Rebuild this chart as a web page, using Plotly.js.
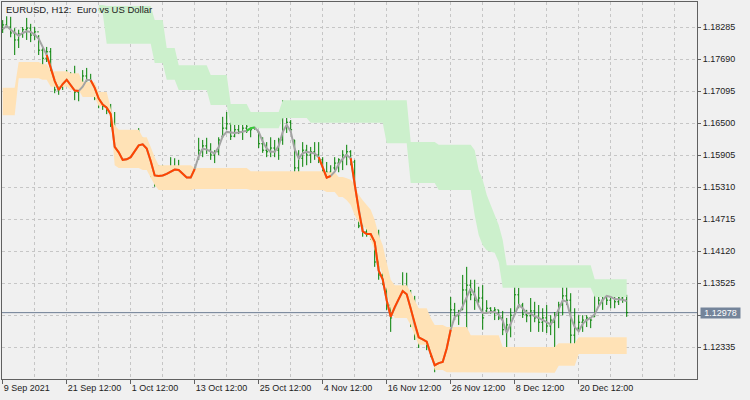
<!DOCTYPE html>
<html><head><meta charset="utf-8">
<script src="https://cdn.plot.ly/plotly-3.0.1.min.js"></script>
<style>html,body{margin:0;padding:0;background:#f0f0f0}</style>
</head><body><div id="chart" style="width:750px;height:400px"></div>
<script>
const chartTitle = 'EURUSD, H12:  Euro vs US Dollar';
const xTickBars = [0, 16, 32, 48, 64, 80, 96, 112, 128, 144];
const xTickText = ['9 Sep 2021', '21 Sep 12:00', '1 Oct 12:00', '13 Oct 12:00', '25 Oct 12:00', '4 Nov 12:00', '16 Nov 12:00', '26 Nov 12:00', '8 Dec 12:00', '20 Dec 12:00'];
const yTicks = [1.18285, 1.17690, 1.17095, 1.16500, 1.15905, 1.15310, 1.14715, 1.14120, 1.13525, 1.12930, 1.12335];
const yTickText = ['1.18285', '1.17690', '1.17095', '1.16500', '1.15905', '1.15310', '1.14715', '1.14120', '1.13525', '', '1.12335'];
const lastPrice = 1.12978;

const openP = [
1.1824,1.1833,1.1829,1.1818,1.1805,1.1816,1.1824,1.1827,1.1814,1.1820,
1.1786,1.1771,1.1783,1.1740,1.1712,1.1719,1.1734,1.1727,1.1716,1.1708,
1.1721,1.1738,1.1731,1.1719,1.1697,1.1686,1.1682,1.1675,1.1647,1.1600,
1.1597,1.1578,1.1585,1.1600,1.1608,1.1619,1.1604,1.1578,1.1554,1.1548,
1.1559,1.1552,1.1559,1.1567,1.1563,1.1556,1.1548,1.1552,1.1559,1.1585,
1.1600,1.1608,1.1600,1.1591,1.1597,1.1626,1.1641,1.1649,1.1626,1.1638,
1.1634,1.1641,1.1645,1.1641,1.1634,1.1612,1.1600,1.1597,1.1604,1.1600,
1.1619,1.1678,1.1652,1.1619,1.1567,1.1585,1.1600,1.1591,1.1597,1.1591,
1.1582,1.1554,1.1559,1.1567,1.1576,1.1582,1.1591,1.1597,1.1578,1.1498,
1.1459,1.1448,1.1444,1.1440,1.1392,1.1368,1.1359,1.1312,1.1301,1.1314,
1.1329,1.1347,1.1329,1.1288,1.1262,1.1247,1.1251,1.1236,1.1219,1.1199,
1.1210,1.1213,1.1266,1.1303,1.1292,1.1303,1.1340,1.1349,1.1331,1.1321,
1.1325,1.1301,1.1306,1.1301,1.1303,1.1288,1.1266,1.1275,1.1293,1.1331,
1.1312,1.1295,1.1292,1.1301,1.1288,1.1280,1.1288,1.1273,1.1280,1.1293,
1.1312,1.1329,1.1321,1.1256,1.1269,1.1280,1.1284,1.1288,1.1290,1.1329,
1.1321,1.1331,1.1321,1.1329,1.1318,1.1325,1.1321];
const highP = [
1.1842,1.1849,1.1848,1.1827,1.1824,1.1829,1.1846,1.1835,1.1829,1.1814,
1.1790,1.1792,1.1790,1.1742,1.1731,1.1745,1.1749,1.1745,1.1757,1.1727,
1.1749,1.1753,1.1742,1.1719,1.1703,1.1697,1.1693,1.1686,1.1671,1.1615,
1.1604,1.1595,1.1610,1.1615,1.1641,1.1623,1.1604,1.1585,1.1567,1.1572,
1.1572,1.1563,1.1587,1.1585,1.1582,1.1567,1.1567,1.1561,1.1569,1.1623,
1.1619,1.1623,1.1613,1.1600,1.1624,1.1662,1.1671,1.1652,1.1665,1.1652,
1.1651,1.1651,1.1656,1.1665,1.1634,1.1624,1.1615,1.1624,1.1619,1.1623,
1.1693,1.1690,1.1656,1.1619,1.1600,1.1615,1.1610,1.1606,1.1615,1.1615,
1.1587,1.1578,1.1572,1.1587,1.1585,1.1600,1.1610,1.1600,1.1582,1.1507,
1.1466,1.1465,1.1455,1.1461,1.1452,1.1386,1.1373,1.1325,1.1329,1.1340,
1.1373,1.1372,1.1340,1.1329,1.1284,1.1269,1.1269,1.1256,1.1225,1.1225,
1.1228,1.1256,1.1327,1.1316,1.1303,1.1368,1.1383,1.1359,1.1359,1.1346,
1.1349,1.1321,1.1308,1.1308,1.1303,1.1301,1.1288,1.1306,1.1355,1.1344,
1.1316,1.1303,1.1325,1.1318,1.1312,1.1306,1.1312,1.1293,1.1299,1.1318,
1.1359,1.1346,1.1334,1.1306,1.1293,1.1293,1.1293,1.1288,1.1344,1.1344,
1.1344,1.1336,1.1344,1.1336,1.1344,1.1336,1.1331];
const lowP = [
1.1818,1.1827,1.1810,1.1777,1.1790,1.1809,1.1805,1.1801,1.1805,1.1777,
1.1757,1.1764,1.1731,1.1706,1.1703,1.1712,1.1719,1.1716,1.1693,1.1691,
1.1712,1.1721,1.1716,1.1693,1.1678,1.1675,1.1667,1.1643,1.1591,1.1585,
1.1569,1.1571,1.1578,1.1587,1.1591,1.1597,1.1567,1.1550,1.1532,1.1548,
1.1545,1.1539,1.1554,1.1559,1.1548,1.1545,1.1526,1.1526,1.1548,1.1582,
1.1587,1.1593,1.1582,1.1576,1.1591,1.1623,1.1638,1.1619,1.1624,1.1630,
1.1619,1.1632,1.1624,1.1638,1.1604,1.1595,1.1587,1.1587,1.1587,1.1582,
1.1610,1.1632,1.1634,1.1535,1.1548,1.1569,1.1572,1.1576,1.1582,1.1576,
1.1532,1.1554,1.1539,1.1563,1.1559,1.1563,1.1572,1.1572,1.1489,1.1455,
1.1439,1.1439,1.1433,1.1383,1.1359,1.1349,1.1303,1.1262,1.1299,1.1301,
1.1321,1.1321,1.1271,1.1247,1.1232,1.1243,1.1228,1.1215,1.1187,1.1197,
1.1204,1.1204,1.1260,1.1284,1.1275,1.1303,1.1234,1.1321,1.1303,1.1316,
1.1266,1.1299,1.1296,1.1284,1.1284,1.1256,1.1225,1.1252,1.1293,1.1306,
1.1288,1.1280,1.1262,1.1280,1.1262,1.1262,1.1260,1.1256,1.1223,1.1269,
1.1293,1.1312,1.1234,1.1234,1.1262,1.1262,1.1271,1.1269,1.1290,1.1312,
1.1303,1.1312,1.1306,1.1306,1.1312,1.1316,1.1290];
const closeP = [
1.1833,1.1829,1.1818,1.1805,1.1816,1.1824,1.1827,1.1814,1.1820,1.1786,
1.1771,1.1783,1.1740,1.1712,1.1719,1.1734,1.1727,1.1716,1.1708,1.1721,
1.1738,1.1731,1.1719,1.1697,1.1686,1.1682,1.1675,1.1647,1.1600,1.1597,
1.1578,1.1585,1.1600,1.1608,1.1619,1.1604,1.1578,1.1554,1.1548,1.1559,
1.1552,1.1559,1.1567,1.1563,1.1556,1.1548,1.1552,1.1559,1.1567,1.1600,
1.1608,1.1600,1.1591,1.1597,1.1619,1.1641,1.1649,1.1626,1.1638,1.1634,
1.1641,1.1645,1.1638,1.1643,1.1612,1.1600,1.1597,1.1604,1.1600,1.1619,
1.1678,1.1652,1.1638,1.1567,1.1585,1.1600,1.1591,1.1597,1.1591,1.1582,
1.1545,1.1559,1.1554,1.1576,1.1582,1.1591,1.1597,1.1578,1.1498,1.1459,
1.1448,1.1444,1.1440,1.1392,1.1368,1.1359,1.1312,1.1288,1.1314,1.1329,
1.1347,1.1329,1.1288,1.1262,1.1247,1.1251,1.1236,1.1219,1.1199,1.1210,
1.1213,1.1247,1.1303,1.1292,1.1301,1.1340,1.1349,1.1331,1.1321,1.1325,
1.1288,1.1306,1.1301,1.1303,1.1288,1.1266,1.1275,1.1293,1.1331,1.1312,
1.1295,1.1292,1.1301,1.1288,1.1280,1.1288,1.1273,1.1284,1.1293,1.1312,
1.1329,1.1321,1.1256,1.1269,1.1280,1.1284,1.1288,1.1284,1.1329,1.1321,
1.1331,1.1321,1.1329,1.1318,1.1325,1.1321,1.12978];
const trendLine = [
1.1825,1.1831,1.1824,1.1818,1.1813,1.1818,1.1821,1.1820,1.1815,1.1807,
1.1792,1.1777,1.1755,1.1729,1.1712,1.1723,1.1731,1.1721,1.1711,1.1710,
1.1718,1.1731,1.1730,1.1716,1.1696,1.1685,1.1679,1.1667,1.1606,1.1596,
1.1582,1.1583,1.1587,1.1598,1.1609,1.1611,1.1603,1.1580,1.1553,1.1552,
1.1553,1.1556,1.1560,1.1564,1.1563,1.1555,1.1549,1.1549,1.1565,1.1589,
1.1603,1.1601,1.1597,1.1594,1.1606,1.1626,1.1634,1.1633,1.1632,1.1633,
1.1634,1.1636,1.1641,1.1642,1.1634,1.1616,1.1603,1.1597,1.1597,1.1608,
1.1634,1.1647,1.1635,1.1602,1.1585,1.1594,1.1597,1.1595,1.1594,1.1587,
1.1568,1.1549,1.1552,1.1560,1.1574,1.1584,1.1591,1.1585,1.1535,1.1489,
1.1449,1.1444,1.1444,1.1429,1.1376,1.1360,1.1321,1.1290,1.1308,1.1323,
1.1338,1.1332,1.1306,1.1275,1.1252,1.1248,1.1244,1.1221,1.1200,1.1204,
1.1206,1.1231,1.1266,1.1290,1.1295,1.1310,1.1327,1.1343,1.1331,1.1310,
1.1297,1.1297,1.1299,1.1299,1.1294,1.1283,1.1260,1.1277,1.1296,1.1312,
1.1306,1.1297,1.1296,1.1291,1.1288,1.1284,1.1281,1.1276,1.1288,1.1306,
1.1321,1.1318,1.1290,1.1271,1.1263,1.1277,1.1284,1.1288,1.1295,1.1310,
1.1321,1.1329,1.1327,1.1323,1.1322,1.1322,1.1319];
const downSegments = [[11, 19], [22, 48], [79, 82], [87, 112]];
const upSegments = [[61, 63]];

const greenTop = [
null,null,null,null,null,null,null,null,null,null,
null,null,null,null,null,null,null,null,null,null,
null,null,null,null,1.1870,1.1870,1.1868,1.1868,1.1868,1.1868,
1.1868,1.1868,1.1868,1.1868,1.1868,1.1868,1.1868,1.1868,1.1842,1.1842,
1.1842,1.1790,1.1790,1.1790,1.1758,1.1758,1.1758,1.1758,1.1758,1.1758,
1.1758,1.1758,1.1740,1.1740,1.1740,1.1740,1.1740,1.1686,1.1686,1.1686,
1.1686,1.1686,1.1671,1.1671,1.1671,1.1671,1.1671,1.1671,1.1671,1.1671,
1.1693,1.1693,1.1693,1.1693,1.1693,1.1693,1.1693,1.1693,1.1693,1.1693,
1.1693,1.1693,1.1693,1.1693,1.1693,1.1693,1.1693,1.1693,1.1693,1.1693,
1.1693,1.1693,1.1693,1.1693,1.1693,1.1693,1.1693,1.1693,1.1693,1.1693,
1.1693,1.1693,1.1615,1.1615,1.1615,1.1615,1.1615,1.1615,1.1615,1.1610,
1.1610,1.1610,1.1610,1.1610,1.1610,1.1610,1.1610,1.1610,1.1600,1.1563,
1.1545,1.1517,1.1498,1.1479,1.1461,1.1433,1.1386,1.1386,1.1386,1.1386,
1.1386,1.1386,1.1386,1.1386,1.1386,1.1386,1.1386,1.1386,1.1386,1.1386,
1.1386,1.1386,1.1386,1.1386,1.1386,1.1386,1.1386,1.1386,1.1360,1.1360,
1.1360,1.1360,1.1360,1.1360,1.1360,1.1360,1.1360];
const greenBottom = [
null,null,null,null,null,null,null,null,null,null,
null,null,null,null,null,null,null,null,null,null,
null,null,null,null,1.1855,1.1855,1.1798,1.1798,1.1798,1.1798,
1.1798,1.1798,1.1798,1.1798,1.1798,1.1798,1.1798,1.1798,1.1762,1.1762,
1.1762,1.1731,1.1731,1.1731,1.1712,1.1712,1.1712,1.1712,1.1712,1.1712,
1.1712,1.1712,1.1684,1.1684,1.1684,1.1684,1.1684,1.1647,1.1647,1.1647,
1.1647,1.1647,1.1641,1.1641,1.1641,1.1641,1.1641,1.1641,1.1641,1.1641,
1.1660,1.1660,1.1660,1.1660,1.1660,1.1660,1.1660,1.1651,1.1651,1.1651,
1.1651,1.1651,1.1651,1.1651,1.1651,1.1651,1.1651,1.1651,1.1651,1.1651,
1.1651,1.1651,1.1651,1.1651,1.1651,1.1651,1.1613,1.1613,1.1613,1.1613,
1.1613,1.1613,1.1539,1.1539,1.1539,1.1539,1.1539,1.1539,1.1539,1.1526,
1.1526,1.1526,1.1526,1.1526,1.1526,1.1526,1.1526,1.1526,1.1479,1.1442,
1.1423,1.1414,1.1411,1.1409,1.1392,1.1344,1.1344,1.1344,1.1344,1.1344,
1.1344,1.1344,1.1344,1.1344,1.1344,1.1344,1.1344,1.1344,1.1344,1.1344,
1.1344,1.1344,1.1344,1.1344,1.1344,1.1344,1.1344,1.1344,1.1327,1.1327,
1.1327,1.1327,1.1327,1.1327,1.1327,1.1327,1.1327];
const orangeTop = [
1.1716,1.1716,1.1716,1.1716,1.1764,1.1764,1.1764,1.1764,1.1764,1.1764,
1.1760,1.1760,1.1747,1.1747,1.1747,1.1747,1.1747,1.1743,1.1743,1.1743,
1.1727,1.1727,1.1727,1.1727,1.1708,1.1708,1.1708,1.1678,1.1647,1.1638,
1.1638,1.1638,1.1638,1.1638,1.1638,1.1624,1.1624,1.1606,1.1587,1.1572,
1.1572,1.1572,1.1572,1.1572,1.1572,1.1572,1.1572,1.1572,1.1567,1.1567,
1.1567,1.1567,1.1567,1.1567,1.1567,1.1567,1.1567,1.1567,1.1567,1.1567,
1.1567,1.1567,1.1561,1.1561,1.1561,1.1561,1.1561,1.1561,1.1561,1.1561,
1.1561,1.1561,1.1561,1.1561,1.1561,1.1561,1.1561,1.1561,1.1561,1.1561,
1.1561,1.1559,1.1559,1.1559,1.1550,1.1550,1.1548,1.1545,1.1535,1.1517,
1.1507,1.1498,1.1489,1.1470,1.1442,1.1423,1.1392,1.1359,1.1349,1.1349,
1.1349,1.1349,1.1336,1.1321,1.1306,1.1306,1.1306,1.1288,1.1275,1.1275,
1.1275,1.1271,1.1271,1.1271,1.1271,1.1271,1.1271,1.1256,1.1256,1.1256,
1.1256,1.1256,1.1256,1.1256,1.1256,1.1234,1.1234,1.1234,1.1234,1.1234,
1.1234,1.1234,1.1234,1.1234,1.1234,1.1234,1.1234,1.1234,1.1234,1.1241,
1.1241,1.1241,1.1241,1.1241,1.1252,1.1252,1.1252,1.1252,1.1252,1.1252,
1.1252,1.1252,1.1252,1.1252,1.1252,1.1252,1.1252];
const orangeBottom = [
1.1665,1.1665,1.1665,1.1665,1.1734,1.1734,1.1734,1.1734,1.1734,1.1734,
1.1731,1.1731,1.1718,1.1718,1.1718,1.1718,1.1718,1.1712,1.1712,1.1712,
1.1699,1.1699,1.1699,1.1699,1.1682,1.1682,1.1682,1.1660,1.1572,1.1567,
1.1567,1.1567,1.1567,1.1567,1.1567,1.1563,1.1563,1.1548,1.1535,1.1526,
1.1526,1.1526,1.1526,1.1526,1.1526,1.1526,1.1526,1.1526,1.1528,1.1528,
1.1528,1.1528,1.1528,1.1528,1.1528,1.1528,1.1528,1.1528,1.1528,1.1528,
1.1528,1.1528,1.1526,1.1526,1.1526,1.1526,1.1526,1.1526,1.1526,1.1526,
1.1526,1.1526,1.1526,1.1526,1.1526,1.1526,1.1526,1.1526,1.1526,1.1526,
1.1526,1.1522,1.1522,1.1522,1.1513,1.1513,1.1507,1.1498,1.1479,1.1466,
1.1461,1.1452,1.1433,1.1414,1.1392,1.1368,1.1340,1.1303,1.1288,1.1288,
1.1288,1.1288,1.1275,1.1256,1.1238,1.1238,1.1238,1.1219,1.1191,1.1191,
1.1191,1.1187,1.1187,1.1187,1.1187,1.1187,1.1187,1.1187,1.1187,1.1187,
1.1187,1.1187,1.1187,1.1187,1.1187,1.1186,1.1186,1.1186,1.1186,1.1186,
1.1186,1.1186,1.1186,1.1186,1.1186,1.1186,1.1186,1.1186,1.1186,1.1199,
1.1199,1.1199,1.1199,1.1199,1.1221,1.1221,1.1221,1.1221,1.1221,1.1221,
1.1221,1.1221,1.1221,1.1221,1.1221,1.1221,1.1221];

const barIdx = closeP.map((_, i) => i);

function band(top, bottom, color) {
  const xs = [], ys = [];
  const keep = barIdx.filter(i => top[i] !== null && bottom[i] !== null);
  keep.forEach(i => { xs.push(i); ys.push(top[i]); });
  keep.slice().reverse().forEach(i => { xs.push(i); ys.push(bottom[i]); });
  return {type: 'scatter', mode: 'lines', x: xs, y: ys, fill: 'toself', fillcolor: color,
    line: {width: 0, shape: 'linear'}, hoverinfo: 'skip'};
}
function overlay(segs) {
  return trendLine.map((v, i) => segs.some(s => i >= s[0] && i <= s[1]) ? v : null);
}

const font = 'Liberation Sans, Arial, sans-serif';
const traces = [
  band(greenTop, greenBottom, '#ccf0cc'),
  band(orangeTop, orangeBottom, '#ffe2b6'),
  {type: 'ohlc', x: barIdx, open: openP, high: highP, low: lowP, close: closeP,
   increasing: {line: {color: '#008000', width: 1}}, decreasing: {line: {color: '#008000', width: 1}},
   tickwidth: 0.35, hoverinfo: 'skip'},
  {type: 'scatter', mode: 'lines', x: barIdx, y: trendLine, line: {color: '#a4a4a4', width: 2}, hoverinfo: 'skip'},
  {type: 'scatter', mode: 'lines', x: barIdx, y: overlay(downSegments), line: {color: '#ff4500', width: 2}, connectgaps: false, hoverinfo: 'skip'},
  {type: 'scatter', mode: 'lines', x: barIdx, y: overlay(upSegments), line: {color: '#32cd32', width: 2}, connectgaps: false, hoverinfo: 'skip'}
];

const grid = '#c6c6c6';
const layout = {
  width: 750, height: 400,
  margin: {l: 2, r: 53, t: 2, b: 21},
  paper_bgcolor: '#f0f0f0', plot_bgcolor: '#f0f0f0',
  showlegend: false, hovermode: false,
  title: {text: chartTitle, x: 6 / 750, xanchor: 'left', xref: 'container', y: 1 - 10 / 400, yanchor: 'middle', yref: 'container',
          font: {family: font, size: 9.5, color: '#222'}},
  xaxis: {range: [-0.175, 173.575], tickmode: 'array', tickvals: xTickBars, ticktext: xTickText,
          showgrid: true, gridcolor: grid, griddash: '3px,3px', gridwidth: 1,
          minor: {dtick: 8, tick0: 0, showgrid: true, gridcolor: grid, griddash: '3px,3px', ticks: ''},
          showline: true, linecolor: '#606060', linewidth: 1, mirror: true,
          ticks: 'outside', ticklen: 4, tickcolor: '#606060', zeroline: false,
          ticklabelposition: 'outside right', tickfont: {family: font, size: 9, color: '#222'},
          rangeslider: {visible: false}, fixedrange: true},
  yaxis: {side: 'right', range: [1.11744, 1.18756], tickmode: 'array', tickvals: yTicks, ticktext: yTickText,
          showgrid: true, gridcolor: grid, griddash: '3px,3px', gridwidth: 1,
          showline: true, linecolor: '#606060', linewidth: 1, mirror: true,
          ticks: 'outside', ticklen: 3, tickcolor: '#606060', zeroline: false,
          tickfont: {family: font, size: 9, color: '#222'}, fixedrange: true},
  shapes: [{type: 'line', xref: 'paper', x0: 0, x1: 1, yref: 'y', y0: lastPrice, y1: lastPrice,
            line: {color: '#6c7c92', width: 1}, layer: 'below'}],
  annotations: [{xref: 'paper', x: 1, xanchor: 'left', xshift: 3, yref: 'y', y: lastPrice, yanchor: 'middle',
                 text: lastPrice.toFixed(5), showarrow: false, bgcolor: '#74849a', borderpad: 0,
                 width: 39, height: 10, align: 'center', valign: 'middle',
                 font: {family: font, size: 9, color: '#ffffff'}}]
};
Plotly.newPlot('chart', traces, layout, {staticPlot: true, displayModeBar: false});
</script></body></html>
